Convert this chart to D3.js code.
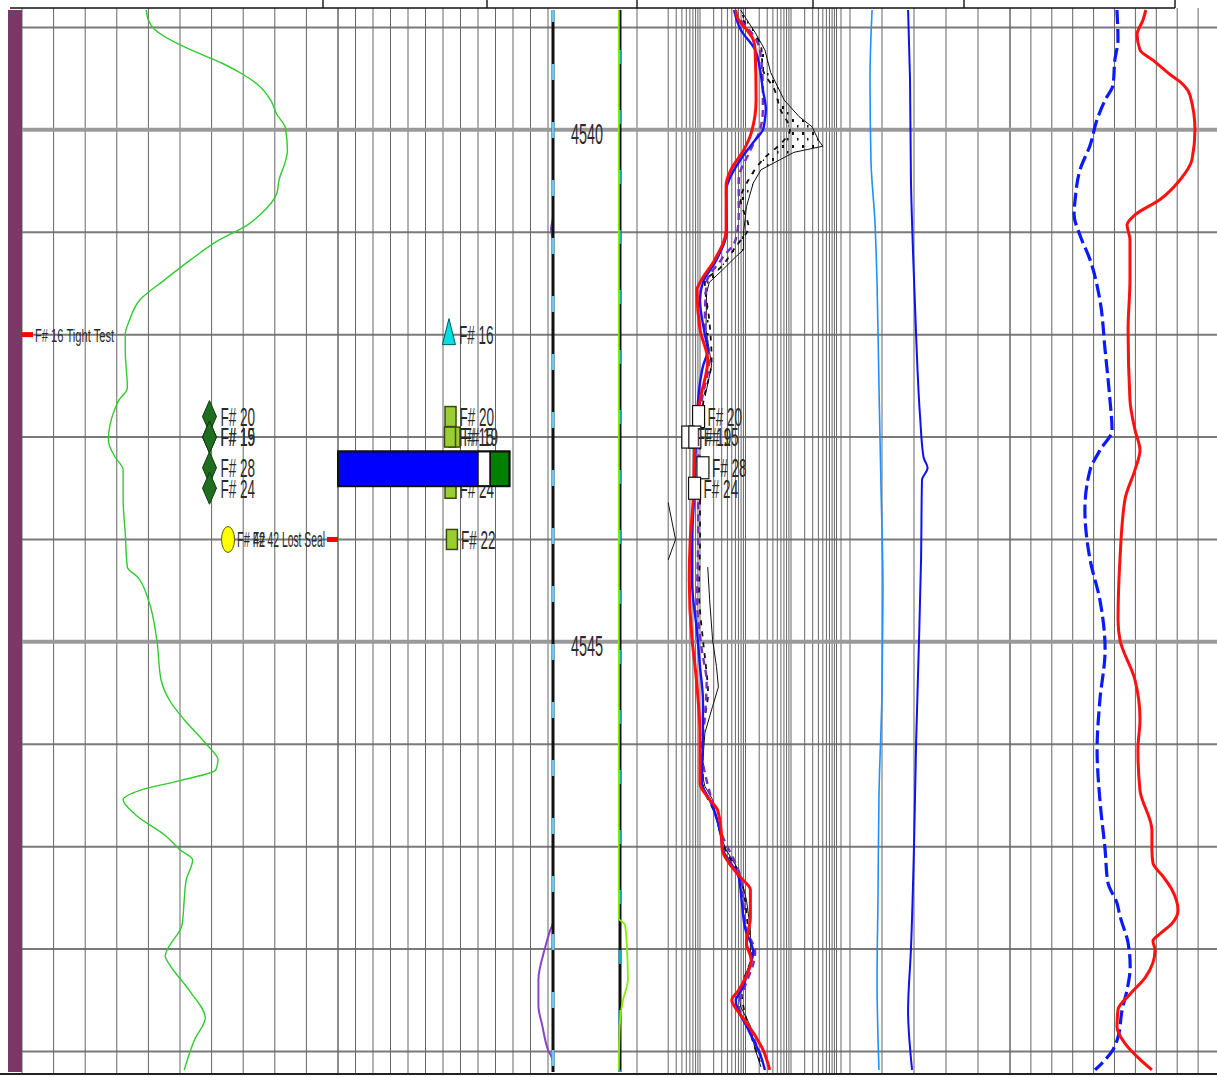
<!DOCTYPE html>
<html>
<head>
<meta charset="utf-8">
<script src="https://cdn.jsdelivr.net/npm/d3@7"></script>
<style>
  html, body { margin: 0; padding: 0; background: #fff; }
  svg { display: block; }
</style>
</head>
<body>
<svg id="log" width="1217" height="1077"></svg>
<script>
// ---------------- depth interval ----------------
const depthTop = 4538.83, depthBottom = 4549.2;
const depthLabels = [4540, 4545];
const gridDepths = d3.range(4539, 4550, 1);

// ---------------- track 1 : gamma ray (API) ----------------
const gammaRay = [
  [4538.83,59],[4538.93,60],[4539.02,63],[4539.17,75],[4539.27,86],[4539.35,95],[4539.46,105],
  [4539.56,112],[4539.71,118],[4539.85,121],[4539.98,125],[4540.20,126],[4540.31,125],[4540.49,122],
  [4540.62,121],[4540.83,113],[4540.93,107],[4541.07,94],[4541.27,80],[4541.46,68],[4541.66,56],
  [4541.86,51],[4542.00,49],[4542.15,49],[4542.52,50],[4542.64,46],[4542.73,44],[4543.03,41],
  [4543.19,44],[4543.32,48],[4543.61,48],[4543.94,49],[4544.27,50],[4544.37,55],[4544.59,60],
  [4544.98,64],[4545.37,66],[4545.57,70],[4545.76,77],[4546.01,88],[4546.15,93],[4546.25,92],
  [4546.35,76],[4546.45,56],[4546.54,48],[4546.69,54],[4546.89,68],[4547.03,75],[4547.13,81],
  [4547.32,78],[4547.52,77],[4547.76,76],[4548.07,68],[4548.15,70],[4548.42,80],[4548.67,87],
  [4548.88,82],[4549.18,77]
];

// ---------------- depth track : bit size and caliper (half-hole, in) ----------------
const bitSize = 4.25;
const caliperLeft = [
  [4538.83,4.25],[4540.85,4.25],[4540.97,4.5],[4541.10,4.25],[4547.74,4.25],[4547.82,4.62],
  [4548.00,5.3],[4548.30,6.1],[4548.55,6.1],[4548.75,5.6],[4548.98,4.9],[4549.10,4.25],[4549.18,4.25]
];
const caliperRight = [
  [4538.83,4.1],[4547.70,4.1],[4547.76,4.87],[4547.98,5.13],[4548.30,5.25],[4548.50,4.62],
  [4548.72,4.24],[4549.18,4.1]
];

// ---------------- track 3 : resistivity (ohm.m, log) ----------------
const resDeep = [
  [4538.83,61],[4538.93,71],[4539.02,105],[4539.12,148],[4539.22,163],[4539.71,171],[4540.03,134],
  [4540.20,91],[4540.39,48],[4540.54,37.5],[4540.98,37.5],[4541.27,21],[4541.49,10],[4541.56,8.6],
  [4541.95,10],[4542.25,14.8],[4542.64,10],[4543.03,7.8],[4543.61,7.1],[4544.00,6.1],[4544.39,5.8],
  [4544.98,6.7],[4545.24,7.8],[4545.57,9.1],[4545.89,10],[4546.38,10],[4546.54,16.3],[4546.64,24.2],
  [4546.86,29.4],[4547.03,30.8],[4547.16,43.5],[4547.30,78],[4547.42,128],[4547.69,128],[4547.94,105],
  [4548.11,134],[4548.28,100],[4548.40,71],[4548.50,50],[4548.59,64],[4548.72,105],[4548.86,171],
  [4548.98,241],[4549.18,340]
];
const resMedium = [
  [4538.83,56],[4539.02,78],[4539.22,163],[4539.41,208],[4539.61,241],[4539.80,280],[4539.90,267],
  [4540.00,241],[4540.10,163],[4540.29,78],[4540.49,43.5],[4540.59,37.5],[4540.98,39],[4541.27,23],
  [4541.49,11.6],[4541.66,10],[4542.00,12.8],[4542.15,14.8],[4542.31,11.6],[4542.47,10],[4542.64,9.1],
  [4543.03,8.2],[4543.61,7.4],[4544.00,6.7],[4544.41,6.7],[4544.90,8.6],[4545.24,10],[4545.57,11.6],
  [4545.89,11.6],[4546.38,11],[4546.54,16.3],[4546.86,28],[4547.03,32],[4547.30,71],[4547.52,82],
  [4547.81,100],[4548.03,148],[4548.20,116],[4548.40,82],[4548.50,61],[4548.79,116],[4549.05,219],
  [4549.18,267]
];
const resShallow = [
  [4538.93,78],[4539.22,208],[4539.61,241],[4539.80,241],[4540.00,208],[4540.20,128],[4540.49,71],
  [4540.83,71],[4541.07,61],[4541.27,29],[4541.49,14],[4541.86,12.8],[4542.25,16],[4542.64,11],
  [4543.03,9.5],[4543.61,9.1],[4544.00,9.1],[4544.59,8.6],[4545.08,11],[4545.40,14],[4545.73,12.8],
  [4546.05,11],[4546.54,18],[4546.86,29],[4547.30,78],[4547.81,105],[4548.03,163],[4548.40,91],
  [4548.55,71],[4548.79,128],[4549.10,241]
];
const microInverse = [
  [4538.93,90],[4539.02,116],[4539.17,219],[4539.41,241],[4539.61,435],[4539.80,583],[4540.00,952],
  [4540.12,644],[4540.27,267],[4540.49,116],[4540.68,78],[4540.95,116],[4541.14,61],[4541.34,29],
  [4541.49,12.8],[4541.86,16],[4542.25,18],[4542.64,12],[4543.03,10],[4543.61,10],[4544.00,10],
  [4544.49,9.5],[4544.98,11.6],[4545.24,13.5],[4545.50,15],[4545.89,11.6],[4546.38,11.6],[4546.69,22],
  [4547.03,36],[4547.30,78],[4547.81,116],[4548.03,140],[4548.40,82],[4548.79,122],[4549.10,208]
];
const microNormal = [
  [4538.83,78],[4539.05,163],[4539.22,267],[4539.44,357],[4539.71,710],[4539.87,1500],[4539.97,2900],
  [4540.10,4000],[4540.16,5000],[4540.22,1159],[4540.29,583],[4540.39,219],[4540.52,148],[4540.75,105],
  [4541.00,91],[4541.17,91],[4541.24,61],[4541.37,31],[4541.49,16],[4541.59,14],[4541.95,13.5],
  [4542.30,18],[4542.60,13],[4542.62,null],
  [4543.64,2],[4544.00,2.9],[4544.20,2],[4544.22,null],
  [4544.27,14.8],[4544.59,16.3],[4544.98,18.9],[4545.24,23],[4545.44,25.4],[4545.63,18.9],
  [4545.89,12.8],[4546.28,11],[4546.41,12.8],[4546.54,18.9],[4546.86,26.7],[4547.03,37.5],
  [4547.23,71],[4547.52,105],[4547.81,128],[4548.13,128],[4548.42,71],[4548.56,78],[4548.75,128],
  [4548.98,163],[4549.15,219]
];
// depth interval where the micro-log separation is shaded
const shadeTop = 4538.83, shadeBase = 4542.62;

// ---------------- track 4 : calipers (in) ----------------
const caliper1 = [
  [4538.83,7.38],[4539.50,7.25],[4540.30,7.31],[4540.90,7.56],[4541.50,7.69],[4542.50,7.81],
  [4543.50,7.94],[4544.50,8.06],[4545.50,8.0],[4546.50,7.81],[4547.50,7.75],[4548.30,7.69],[4549.18,7.81]
];
const caliper2 = [
  [4538.83,9.63],[4539.50,9.75],[4540.50,9.81],[4541.20,9.94],[4542.00,10.13],[4542.80,10.38],
  [4543.20,10.6],[4543.30,10.85],[4543.42,10.5],[4544.20,10.44],[4545.00,10.31],[4546.00,10.13],
  [4547.00,10.0],[4548.00,9.81],[4548.60,9.63],[4549.18,9.88]
];

// ---------------- track 5 : density (g/cc) and neutron (v/v) ----------------
const bulkDensity = [
  [4538.83,2.600],[4538.93,2.586],[4539.07,2.558],[4539.22,2.572],[4539.32,2.634],[4539.46,2.716],
  [4539.53,2.763],[4539.66,2.811],[4540.00,2.835],[4540.29,2.821],[4540.49,2.763],[4540.68,2.668],
  [4540.83,2.548],[4540.93,2.510],[4541.07,2.524],[4541.46,2.524],[4541.95,2.515],[4542.64,2.524],
  [4542.93,2.548],[4543.13,2.572],[4543.32,2.548],[4543.61,2.500],[4544.20,2.476],[4544.79,2.467],
  [4544.98,2.476],[4545.37,2.548],[4545.76,2.572],[4546.05,2.562],[4546.45,2.572],[4546.84,2.629],
  [4547.03,2.629],[4547.16,2.634],[4547.29,2.682],[4547.42,2.725],[4547.62,2.754],[4547.75,2.725],
  [4547.85,2.668],[4547.92,2.634],[4548.01,2.644],[4548.28,2.596],[4548.44,2.524],[4548.59,2.467],
  [4548.76,2.462],[4548.92,2.500],[4549.05,2.558],[4549.18,2.629]
];
const neutronPorosity = [
  [4538.83,0.143],[4539.12,0.140],[4539.32,0.149],[4539.56,0.154],[4539.71,0.177],[4539.90,0.200],
  [4540.15,0.220],[4540.39,0.249],[4540.68,0.263],[4540.83,0.266],[4541.03,0.249],[4541.27,0.220],
  [4541.66,0.192],[4542.15,0.177],[4542.64,0.163],[4542.93,0.157],[4543.13,0.192],[4543.32,0.220],
  [4543.71,0.235],[4544.20,0.220],[4544.59,0.192],[4545.08,0.177],[4545.57,0.192],[4546.05,0.200],
  [4546.54,0.192],[4547.03,0.177],[4547.35,0.169],[4547.55,0.143],[4547.68,0.134],[4547.94,0.111],
  [4548.17,0.105],[4548.40,0.114],[4548.59,0.128],[4548.86,0.140],[4548.98,0.154],[4549.18,0.206]
];

// ---------------- formation tester stations ----------------
const pretestIds      = ["F# 20", "F# 19", "F# 15", "F# 28", "F# 24", "F# 22"];
const pretestDepths   = [4542.8, 4543.0, 4543.0, 4543.3, 4543.5, 4544.0];
const pretestQuality  = [89, 89, 89, 89, 89, null];         // track 1 (0-150)
const pretestDrawdown = [6.43, 6.66, 6.4, 6.43, 6.43, 6.51]; // track 2 (0-12)
const pretestMobility = [9.3, 5.4, 7.7, 11.6, 7.6, null];    // track 3 (log)

const tightTestIds = ["F# 16"], tightTestDepths = [4542.0], tightTestDrawdown = [6.34];
const lostSealIds = ["F# 42"], lostSealDepths = [4544.0], lostSealQuality = [97.8];

// stacked bar in track 2
const barDepthTop = 4543.14, barDepthBase = 4543.48;
const barSegments = [8.0, 0.7, 1.1];

// ---------------- scales ----------------
const svg = d3.select("#log");
const y = d3.scaleLinear().domain([depthTop, depthBottom]).range([10, 1072]);
const xGR = d3.scaleLinear().domain([0, 150]).range([22, 338]);
const xT2 = d3.scaleLinear().domain([0, 12]).range([338, 548]);
const holeCenter = 586.5;
const xHole = d3.scaleLinear().domain([0, bitSize]).range([0, 33.5]);
const xRes = d3.scaleLog().domain([1, 10000]).range([654.5, 836.5]);
const xCal = d3.scaleLinear().domain([6, 16]).range([850, 1010]);
const xRhob = d3.scaleLinear().domain([1.95, 2.95]).range([1010, 1219]);
const xNphi = d3.scaleLinear().domain([0.45, -0.15]).range([1010, 1219]);

const gridTop = 8, gridBottom = 1073;

// ---------------- patterns ----------------
const defs = svg.append("defs");
const pat = defs.append("pattern").attr("id", "dots")
  .attr("width", 10).attr("height", 13).attr("patternUnits", "userSpaceOnUse");
pat.append("rect").attr("x", 2).attr("y", 2).attr("width", 2).attr("height", 3).attr("fill", "#111");
pat.append("rect").attr("x", 7).attr("y", 8).attr("width", 1.5).attr("height", 2.5).attr("fill", "#111");

// ---------------- grid ----------------
const grid = svg.append("g");
const vTicks = [
  ...d3.range(0, 151, 15).map(xGR),
  ...d3.range(0, 13, 1).map(xT2),
  ...d3.range(6, 17, 2).map(xCal),
  ...d3.range(0, 11).map(i => xRhob(1.95 + i * 0.1)),
  637, 841
];
[1, 10, 100, 1000].forEach(dec => {
  d3.range(2, 11).forEach(m => vTicks.push(xRes(m * dec)));
});

grid.selectAll("line.h").data(gridDepths.filter(d => d % 5 !== 0)).join("line")
  .attr("x1", 22).attr("x2", 1217).attr("y1", d => y(d)).attr("y2", d => y(d))
  .attr("stroke", "#7a7a7a").attr("stroke-width", 2);
grid.selectAll("line.v").data(vTicks).join("line")
  .attr("x1", d => d).attr("x2", d => d).attr("y1", gridTop).attr("y2", gridBottom)
  .attr("stroke", "#666").attr("stroke-width", 1);
grid.selectAll("line.hm").data(gridDepths.filter(d => d % 5 === 0)).join("line")
  .attr("x1", 22).attr("x2", 1217).attr("y1", d => y(d)).attr("y2", d => y(d))
  .attr("stroke", "#9a9a9a").attr("stroke-width", 4);

// header border and bottom frame
svg.append("line").attr("x1", 10).attr("x2", 1175).attr("y1", 8).attr("y2", 8)
  .attr("stroke", "#111").attr("stroke-width", 1.6);
[323, 487, 637, 813, 964, 1175].forEach(x => {
  svg.append("line").attr("x1", x).attr("x2", x).attr("y1", 0).attr("y2", 8)
    .attr("stroke", "#111").attr("stroke-width", 1.4);
});
svg.append("line").attr("x1", 0).attr("x2", 1217).attr("y1", 1074).attr("y2", 1074)
  .attr("stroke", "#222").attr("stroke-width", 2);

// ---------------- curves ----------------
const curves = svg.append("g").attr("fill", "none");
function trace(data, xs, curve) {
  return d3.line().defined(d => d[1] != null)
    .x(d => xs(d[1])).y(d => y(d[0])).curve(curve || d3.curveMonotoneY)(data);
}

// track 1
curves.append("path").attr("d", trace(gammaRay, xGR))
  .attr("stroke", "#2ecc2e").attr("stroke-width", 1.4);

// depth track: caliper, then bit size
const leftSide = v => holeCenter - xHole(v);
const rightSide = v => holeCenter + xHole(v);
curves.append("path").attr("d", trace(caliperLeft, leftSide))
  .attr("stroke", "#8a44c8").attr("stroke-width", 2);
const bitLine = [[depthTop, bitSize], [depthBottom, bitSize]];
curves.append("path").attr("d", trace(bitLine, leftSide)).attr("stroke", "#111").attr("stroke-width", 3);
curves.append("path").attr("d", trace(bitLine, leftSide)).attr("stroke", "#6cc8ee").attr("stroke-width", 3)
  .attr("stroke-dasharray", "16 42").attr("stroke-dashoffset", 4);
curves.append("path").attr("d", trace(bitLine, rightSide)).attr("stroke", "#111").attr("stroke-width", 3);
curves.append("path").attr("d", trace(bitLine, rightSide)).attr("stroke", "#1aa8c8").attr("stroke-width", 3)
  .attr("stroke-dasharray", "14 46").attr("stroke-dashoffset", 20);
curves.append("path").attr("d", trace(caliperRight, rightSide))
  .attr("stroke", "#88ee00").attr("stroke-width", 1.8);

// track 3: micro-log separation shading (upper interval)
{
  const nor = microNormal.filter(d => d[1] != null && d[0] >= shadeTop && d[0] <= shadeBase);
  const inv = microInverse.filter(d => d[0] >= shadeTop && d[0] <= shadeBase).slice().reverse();
  const pts = nor.map(d => [xRes(d[1]), y(d[0])]).concat(inv.map(d => [xRes(d[1]), y(d[0])]));
  curves.append("path").attr("d", d3.line()(pts) + "Z")
    .attr("fill", "url(#dots)").attr("stroke", "none");
}
curves.append("path").attr("d", trace(microNormal, xRes, d3.curveLinear)).attr("stroke", "#111").attr("stroke-width", 1);
curves.append("path").attr("d", trace(microInverse, xRes)).attr("stroke", "#111")
  .attr("stroke-width", 1.8).attr("stroke-dasharray", "5 6");
curves.append("path").attr("d", trace(resShallow, xRes)).attr("stroke", "#7a2fc0")
  .attr("stroke-width", 2.4).attr("stroke-dasharray", "7 5");
curves.append("path").attr("d", trace(resMedium, xRes)).attr("stroke", "#1515ff").attr("stroke-width", 2.4);
curves.append("path").attr("d", trace(resDeep, xRes)).attr("stroke", "#ff1010").attr("stroke-width", 3);

// track 4
curves.append("path").attr("d", trace(caliper1, xCal)).attr("stroke", "#1e90ff").attr("stroke-width", 1.6);
curves.append("path").attr("d", trace(caliper2, xCal)).attr("stroke", "#1010ee").attr("stroke-width", 2);

// track 5
curves.append("path").attr("d", trace(neutronPorosity, xNphi)).attr("stroke", "#0a1aff")
  .attr("stroke-width", 3.2).attr("stroke-dasharray", "14 5");
curves.append("path").attr("d", trace(bulkDensity, xRhob)).attr("stroke", "#ff1010").attr("stroke-width", 3);

// ---------------- depth labels ----------------
const font = "'Liberation Sans', Arial, sans-serif";
function label(g, x, yy, txt, size, sx, anchor) {
  g.append("text")
    .attr("transform", `translate(${x},${yy}) scale(${sx},1)`)
    .attr("text-anchor", anchor || "start").attr("dy", "0.36em")
    .style("font-family", font).style("font-size", size + "px")
    .attr("fill", "#2b2b2b").text(txt);
}
const labels = svg.append("g");
depthLabels.forEach(d => label(labels, 587, y(d) + 3, String(d), 30, 0.48, "middle"));

// ---------------- tester symbols ----------------
const marks = svg.append("g");
const pretests = pretestIds.map((id, i) => ({
  id, depth: pretestDepths[i], q: pretestQuality[i], dd: pretestDrawdown[i], mob: pretestMobility[i]
}));

// track 1: diamonds
pretests.filter(p => p.q != null).forEach(p => {
  const cx = xGR(p.q), cy = y(p.depth);
  marks.append("path").attr("d", `M${cx},${cy - 16}L${cx + 7},${cy}L${cx},${cy + 16}L${cx - 7},${cy}Z`)
    .attr("fill", "#1f6e1f").attr("stroke", "#0c3a0c").attr("stroke-width", 1);
});
pretests.filter(p => p.q != null).forEach(p => label(marks, xGR(p.q) + 11, y(p.depth), p.id, 26, 0.52));

// track 1: lost seal station
lostSealIds.forEach((id, i) => {
  const cx = xGR(lostSealQuality[i]), cy = y(lostSealDepths[i]);
  marks.append("ellipse").attr("cx", cx).attr("cy", cy).attr("rx", 6.5).attr("ry", 13)
    .attr("fill", "#ffff00").attr("stroke", "#5a5a00").attr("stroke-width", 1);
  label(marks, cx + 9, cy, id, 22, 0.5);
  marks.append("rect").attr("x", xGR(150) - 11).attr("y", cy - 2.5).attr("width", 11).attr("height", 5).attr("fill", "#ff0000");
  label(marks, xGR(150) - 13, cy, id + " Lost Seal", 22, 0.47, "end");
});

// track 1: tight test flag
tightTestIds.forEach((id, i) => {
  const cy = y(tightTestDepths[i]);
  marks.append("rect").attr("x", xGR(0)).attr("y", cy - 2.5).attr("width", 11).attr("height", 5).attr("fill", "#ff0000");
  label(marks, xGR(0) + 13, cy + 1, id + " Tight Test", 18, 0.62);
});

// track 2: tight test triangle
tightTestIds.forEach((id, i) => {
  const cx = xT2(tightTestDrawdown[i]), cy = y(tightTestDepths[i]);
  marks.append("path").attr("d", `M${cx},${cy - 16}L${cx + 6.5},${cy + 10}L${cx - 6.5},${cy + 10}Z`)
    .attr("fill", "#00e0e0").attr("stroke", "#005a5a").attr("stroke-width", 1);
  label(marks, cx + 10, cy, id, 26, 0.52);
});

// track 2: squares
pretests.forEach(p => {
  const cx = xT2(p.dd), cy = y(p.depth);
  marks.append("rect").attr("x", cx - 5.5).attr("y", cy - 10).attr("width", 11).attr("height", 20)
    .attr("fill", "#9acd32").attr("stroke", "#3a4a10").attr("stroke-width", 1.5);
});
pretests.forEach(p => label(marks, xT2(p.dd) + 9, y(p.depth), p.id, 26, 0.52));

// track 2: stacked bar
let acc = 0;
const barColors = ["#0000ff", "#ffffff", "#008000"];
barSegments.forEach((v, i) => {
  marks.append("rect").attr("x", xT2(acc)).attr("y", y(barDepthTop))
    .attr("width", xT2(acc + v) - xT2(acc)).attr("height", y(barDepthBase) - y(barDepthTop))
    .attr("fill", barColors[i]).attr("stroke", "#111").attr("stroke-width", 1.5);
  acc += v;
});
marks.append("rect").attr("x", xT2(0)).attr("y", y(barDepthTop))
  .attr("width", xT2(acc) - xT2(0)).attr("height", y(barDepthBase) - y(barDepthTop))
  .attr("fill", "none").attr("stroke", "#111").attr("stroke-width", 2);

// track 3: mobility boxes
pretests.filter(p => p.mob != null).forEach(p => {
  const cx = xRes(p.mob), cy = y(p.depth);
  marks.append("rect").attr("x", cx - 6).attr("y", cy - 11).attr("width", 12).attr("height", 22)
    .attr("fill", "#fff").attr("stroke", "#111").attr("stroke-width", 1.2);
});
pretests.filter(p => p.mob != null).forEach(p => label(marks, xRes(p.mob) + 9, y(p.depth), p.id, 26, 0.52));

// left colour strip
svg.append("rect").attr("x", 8).attr("y", 10).attr("width", 14).attr("height", 1062).attr("fill", "#7a3866");
</script>
</body>
</html>
